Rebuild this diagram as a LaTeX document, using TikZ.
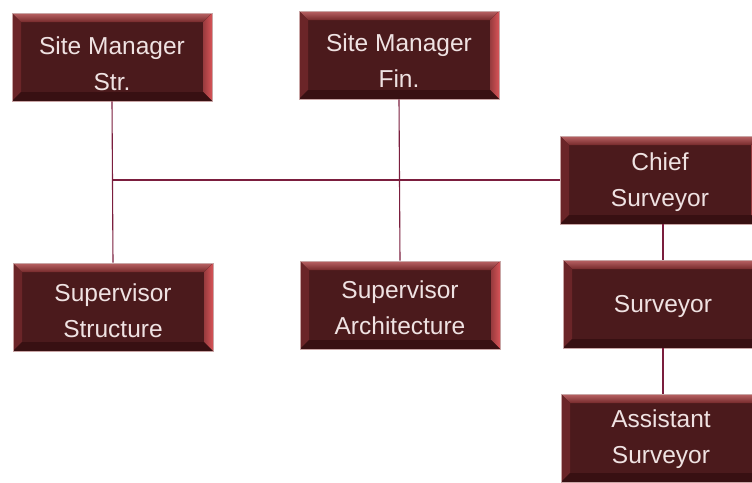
\documentclass[tikz,border=0pt]{standalone}
\usepackage{fontspec}
\setmainfont{Liberation Sans}
\usetikzlibrary{calc}
\definecolor{boxfill}{HTML}{4B1A1C}
\definecolor{beveltop}{HTML}{A83C3E}
\definecolor{bevelleft}{HTML}{6B2528}
\definecolor{bevelright}{HTML}{D85458}
\definecolor{bevelbottom}{HTML}{381012}
\definecolor{boxedge}{HTML}{C9A6A6}
\definecolor{linkcol}{HTML}{7B1E3E}
\definecolor{boxtext}{HTML}{EFE2E2}
\tikzset{
  orgbox/.style={minimum width=200pt, minimum height=88pt, inner sep=0pt,
    fill=boxfill, draw=boxedge, line width=0.6pt,
    path picture={
      \coordinate (NW) at (path picture bounding box.north west);
      \coordinate (NE) at (path picture bounding box.north east);
      \coordinate (SW) at (path picture bounding box.south west);
      \coordinate (SE) at (path picture bounding box.south east);
      \fill[top color=beveltop!80!white, bottom color=beveltop!70!black]
        (NW) -- (NE) -- ([shift={(-9pt,-9pt)}]NE) -- ([shift={(9pt,-9pt)}]NW) -- cycle;
      \fill[bevelleft] (NW) -- ([shift={(9pt,-9pt)}]NW) -- ([shift={(9pt,9pt)}]SW) -- (SW) -- cycle;
      \fill[left color=bevelright!70!black, right color=bevelright]
        (NE) -- ([shift={(-9pt,-9pt)}]NE) -- ([shift={(-9pt,9pt)}]SE) -- (SE) -- cycle;
      \fill[bevelbottom] (SW) -- ([shift={(9pt,9pt)}]SW) -- ([shift={(-9pt,9pt)}]SE) -- (SE) -- cycle;
    }},
  boxlabel/.style={text=boxtext, align=center, inner sep=0pt,
    font=\fontsize{24.5}{36}\selectfont},
  link/.style={draw=linkcol, line width=1.1pt}
}
\begin{document}
\begin{tikzpicture}[x=1pt,y=-1pt]
\useasboundingbox[fill=white] (0,0) rectangle (752,482);
\node[orgbox, label={[boxlabel,yshift=-7pt]center:Site Manager\\Str.}] (smstr) at (112,57) {};
\node[orgbox, label={[boxlabel,yshift=-6pt]center:Site Manager\\Fin.}] (smfin) at (399,55) {};
\node[orgbox, label={[boxlabel,yshift=-2pt]center:Chief\\Surveyor}] (chief) at (660,180) {};
\node[orgbox, label={[boxlabel,yshift=-4pt]center:Supervisor\\Structure}] (supstr) at (113,307) {};
\node[orgbox, label={[boxlabel,yshift=-3pt]center:Supervisor\\Architecture}] (suparch) at (400,305) {};
\node[orgbox, label={[boxlabel,yshift=-2pt]center:Surveyor}] (surv) at (663,304) {};
\node[orgbox, label={[boxlabel,yshift=-1pt]center:Assistant\\Surveyor}] (asst) at (661,438) {};
\coordinate (junction) at (smstr.south |- chief.west);
\draw[link] (smstr.south) -- (supstr.north);
\draw[link] (smfin.south) -- (suparch.north);
\draw[link] (chief.west) -- (junction);
\draw[link] (chief.south -| surv.north) -- (surv.north);
\draw[link] (surv.south) -- (surv.south |- asst.north);
\end{tikzpicture}
\end{document}
